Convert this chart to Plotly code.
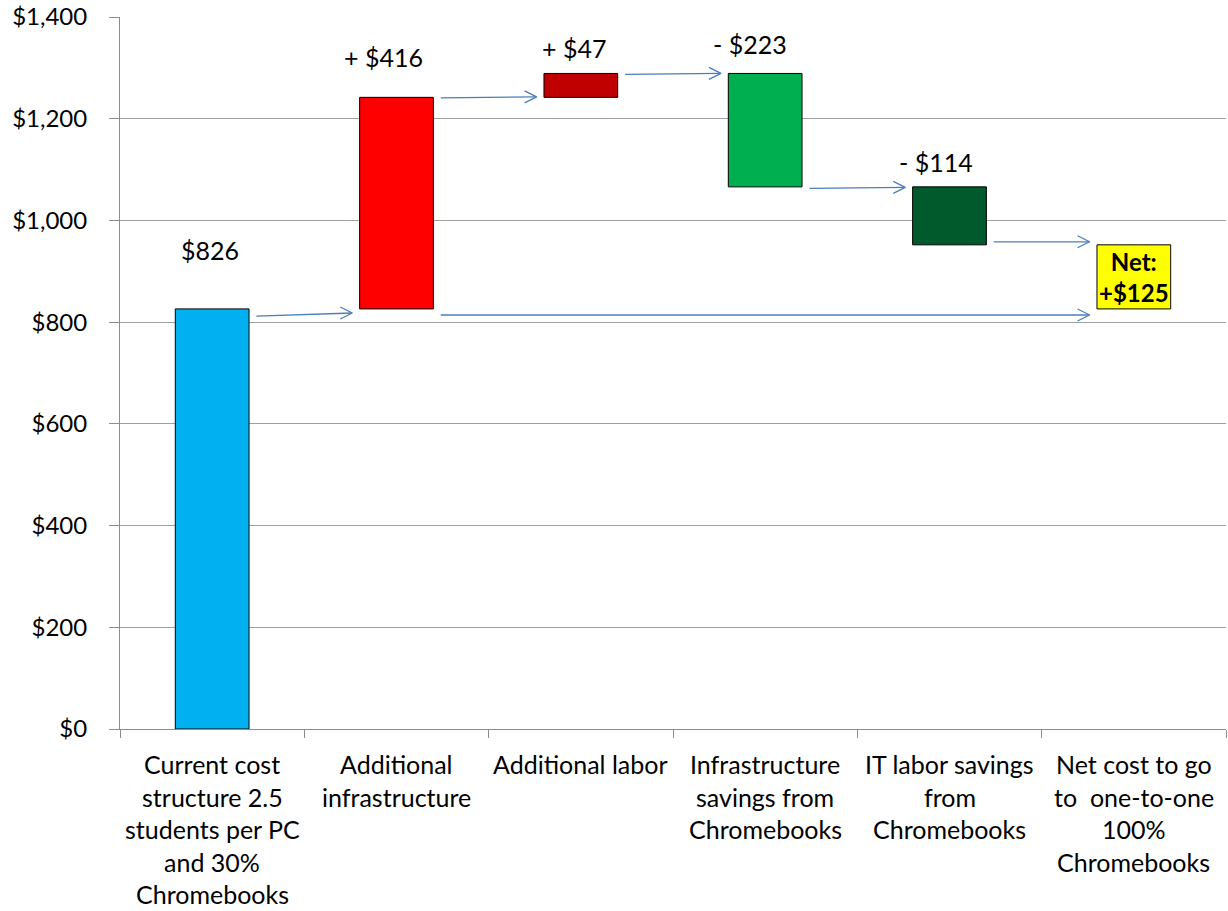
import plotly.graph_objects as go

# ---- data ----
categories = [
    ["Current cost", "structure 2.5", "students per PC", "and 30%", "Chromebooks"],
    ["Additional", "infrastructure"],
    ["Additional labor"],
    ["Infrastructure", "savings from", "Chromebooks"],
    ["IT labor savings", "from", "Chromebooks"],
    ["Net cost to go", "to  one-to-one", "100%", "Chromebooks"],
]
start_value = 826
deltas = [416, 47, -223, -114]
value_labels = ["$826", "+ $416", "+ $47", "- $223", "- $114"]
net_label = "Net:<br>+$125"
bar_colors = ["#00B0F0", "#FF0000", "#C00000", "#00B050", "#005A2B", "#FFFF00"]
y_tick_values = [0, 200, 400, 600, 800, 1000, 1200, 1400]
y_tick_labels = ["$0", "$200", "$400", "$600", "$800", "$1,000", "$1,200", "$1,400"]

# connector arrows (from category, to category, start level, end level)
arrow_from = [0, 1, 2, 3, 4, 1]
arrow_to = [1, 2, 3, 4, 5, 5]
arrow_y0 = [812, 1241, 1287, 1063, 958, 814]
arrow_y1 = [818, 1243, 1289, 1065, 958, 814]

# ---- geometry helpers ----
W, H = 1228, 911
ml, mr, mt, mb = 120, 2, 17, 182
xmin, xmax, ymin, ymax = -0.5, 5.5, 0, 1400
px_per_x = (W - ml - mr) / (xmax - xmin)
px_per_y = (H - mt - mb) / (ymax - ymin)

# build waterfall bases/heights
bases, heights = [0], [start_value]
level = start_value
for d in deltas:
    if d >= 0:
        bases.append(level)
        heights.append(d)
    else:
        bases.append(level + d)
        heights.append(-d)
    level += d
bases.append(start_value)
heights.append(level - start_value)
tops = [b + h for b, h in zip(bases, heights)]
xs = list(range(len(categories)))

FONT = "Lato"
FS = 25

fig = go.Figure()
fig.add_trace(go.Bar(
    x=xs, y=heights, base=bases, width=0.4,
    marker=dict(color=bar_colors, line=dict(color="#000000", width=1)),
    hoverinfo="skip",
))

# arrows
ax_pts, ay_pts = [], []
off = 0.24
hx = 12 / px_per_x
hy = 6 / px_per_y
for f, t, y0, y1 in zip(arrow_from, arrow_to, arrow_y0, arrow_y1):
    x0 = f + off
    x1 = t - off
    ax_pts += [x0, x1, None, x1 - hx, x1, x1 - hx, None]
    ay_pts += [y0, y1, None, y1 + hy, y1, y1 - hy, None]
fig.add_trace(go.Scatter(x=ax_pts, y=ay_pts, mode="lines",
                         line=dict(color="#4A7EBB", width=1.3),
                         hoverinfo="skip", cliponaxis=False))

annotations = []
# value labels
label_shift = [59, 40, 25, 29, 25]
label_xshift = [-2, -13, -7, -15, -14]
for i, txt in enumerate(value_labels):
    annotations.append(dict(x=i, y=tops[i], xref="x", yref="y", text=txt,
                            showarrow=False, yanchor="middle",
                            yshift=label_shift[i], xshift=label_xshift[i],
                            font=dict(family=FONT, size=FS, color="#000000")))
# net label
n = len(categories) - 1
annotations.append(dict(x=n, y=bases[n] + heights[n] / 2, xref="x", yref="y",
                        text="<b>" + net_label + "</b>", showarrow=False,
                        yanchor="middle", align="center",
                        font=dict(family=FONT, size=FS - 1, color="#000000")))
# category labels, one line each
for i, lines in enumerate(categories):
    for k, line in enumerate(lines):
        annotations.append(dict(x=i, y=0, xref="x", yref="paper", text=line,
                                showarrow=False, yanchor="middle",
                                yshift=-(35 + 32.5 * k),
                                font=dict(family=FONT, size=FS, color="#000000")))

fig.update_layout(
    width=W, height=H,
    margin=dict(l=ml, r=mr, t=mt, b=mb),
    plot_bgcolor="#FFFFFF", paper_bgcolor="#FFFFFF",
    showlegend=False,
    annotations=annotations,
    font=dict(family=FONT, size=FS, color="#000000"),
    xaxis=dict(range=[xmin, xmax], tickmode="array",
               tickvals=[v - 0.5 for v in range(len(categories) + 1)],
               showticklabels=False, ticks="outside", ticklen=8,
               tickcolor="#8C8C8C", showgrid=False, zeroline=False,
               showline=True, linecolor="#8C8C8C", linewidth=1, fixedrange=True),
    yaxis=dict(range=[ymin, ymax], tickmode="array", tickvals=y_tick_values,
               ticktext=y_tick_labels, ticks="outside", ticklen=10,
               tickcolor="#8C8C8C", ticklabelstandoff=17,
               showgrid=True, gridcolor="#A0A0A0", gridwidth=1,
               zeroline=False, showline=True, linecolor="#8C8C8C", linewidth=1,
               tickfont=dict(family=FONT, size=FS - 1, color="#000000"), fixedrange=True),
)

fig.write_html("out.html", config={"displayModeBar": False},
               post_script="document.body.style.margin='0';document.body.style.overflow='hidden';")
